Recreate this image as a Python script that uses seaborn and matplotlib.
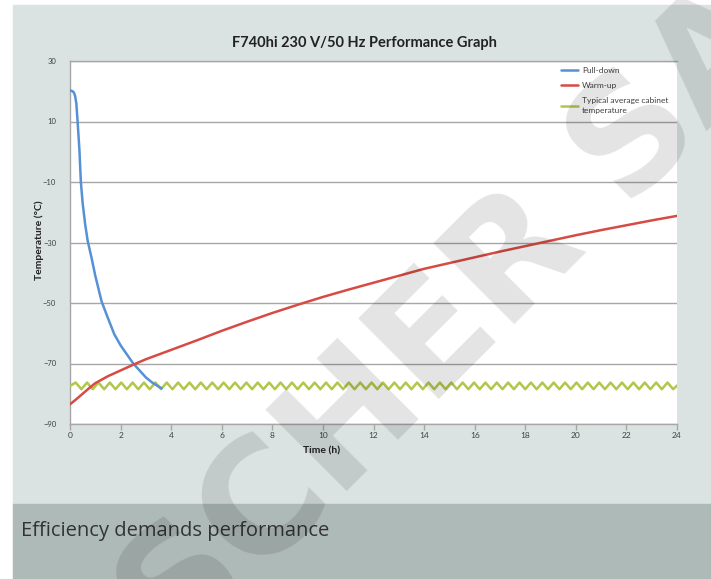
import matplotlib
matplotlib.use("Agg")
import matplotlib.pyplot as plt
import seaborn as sns
from matplotlib.patches import Rectangle

# ---------------- DATA ----------------
pull_time = [0.0, 0.1, 0.15, 0.2, 0.25, 0.3, 0.37, 0.43, 0.5, 0.6, 0.7, 0.85,
             1.0, 1.25, 1.5, 1.75, 2.0, 2.25, 2.5, 2.75, 3.0, 3.25, 3.5, 3.62]
pull_temp = [20.3, 20.0, 19.6, 18.5, 16.0, 10.0, 1.0, -10.0, -17.0, -24.0, -29.5, -35.0,
             -41.0, -49.5, -55.0, -60.3, -64.0, -67.0, -70.0, -72.3, -74.6, -76.3, -77.6, -78.2]

warm_time = [0.0, 0.25, 0.5, 0.75, 1.0, 1.5, 2.0, 2.5, 3.0, 4.0, 5.0, 6.0, 7.0, 8.0,
             9.0, 10.0, 11.0, 12.0, 13.0, 14.0, 15.0, 16.0, 17.0, 18.0, 19.0, 20.0,
             21.0, 22.0, 23.0, 24.0]
warm_temp = [-83.5, -81.8, -80.0, -78.2, -76.5, -74.2, -72.3, -70.4, -68.6, -65.5,
             -62.4, -59.2, -56.2, -53.3, -50.6, -48.0, -45.6, -43.3, -41.0, -38.7,
             -36.8, -34.9, -33.0, -31.2, -29.4, -27.6, -25.9, -24.3, -22.7, -21.2]

# cabinet temperature cycling: alternating trough / peak vertices
cabinet_time = [0.0, 0.225, 0.45, 0.675, 0.9, 1.125, 1.35, 1.575, 1.8, 2.025,
                2.25, 2.475, 2.7, 2.925, 3.15, 3.375, 3.6, 3.825, 4.05, 4.275,
                4.5, 4.725, 4.95, 5.175, 5.4, 5.625, 5.85, 6.075, 6.3, 6.525,
                6.75, 6.975, 7.2, 7.425, 7.65, 7.875, 8.1, 8.325, 8.55, 8.775,
                9.0, 9.225, 9.45, 9.675, 9.9, 10.125, 10.35, 10.575, 10.8, 11.025,
                11.25, 11.475, 11.7, 11.925, 12.15, 12.375, 12.6, 12.825, 13.05, 13.275,
                13.5, 13.725, 13.95, 14.175, 14.4, 14.625, 14.85, 15.075, 15.3, 15.525,
                15.75, 15.975, 16.2, 16.425, 16.65, 16.875, 17.1, 17.325, 17.55, 17.775,
                18.0, 18.225, 18.45, 18.675, 18.9, 19.125, 19.35, 19.575, 19.8, 20.025,
                20.25, 20.475, 20.7, 20.925, 21.15, 21.375, 21.6, 21.825, 22.05, 22.275,
                22.5, 22.725, 22.95, 23.175, 23.4, 23.625, 23.85, 24.0]
cabinet_temp = [-77.4, -76.3, -78.5, -76.3, -78.5, -76.3, -78.5, -76.3, -78.5, -76.3,
                -78.5, -76.3, -78.5, -76.3, -78.5, -76.3, -78.5, -76.3, -78.5, -76.3,
                -78.5, -76.3, -78.5, -76.3, -78.5, -76.3, -78.5, -76.3, -78.5, -76.3,
                -78.5, -76.3, -78.5, -76.3, -78.5, -76.3, -78.5, -76.3, -78.5, -76.3,
                -78.5, -76.3, -78.5, -76.3, -78.5, -76.3, -78.5, -76.3, -78.5, -76.3,
                -78.5, -76.3, -78.5, -76.3, -78.5, -76.3, -78.5, -76.3, -78.5, -76.3,
                -78.5, -76.3, -78.5, -76.3, -78.5, -76.3, -78.5, -76.3, -78.5, -76.3,
                -78.5, -76.3, -78.5, -76.3, -78.5, -76.3, -78.5, -76.3, -78.5, -76.3,
                -78.5, -76.3, -78.5, -76.3, -78.5, -76.3, -78.5, -76.3, -78.5, -76.3,
                -78.5, -76.3, -78.5, -76.3, -78.5, -76.3, -78.5, -76.3, -78.5, -76.3,
                -78.5, -76.3, -78.5, -76.3, -78.5, -76.3, -78.5, -77.3]

x_ticks = [0, 2, 4, 6, 8, 10, 12, 14, 16, 18, 20, 22, 24]
y_ticks = [-90, -70, -50, -30, -10, 10, 30]

labels = ["Pull-down", "Warm-up", "Typical average cabinet\ntemperature"]
colors = ["#5591d4", "#d64b44", "#b3c64a"]

# ---------------- FIGURE ----------------
sns.set_style("white")
plt.rcParams["font.family"] = ["Lato", "DejaVu Sans"]

W, H = 711, 579
fig = plt.figure(figsize=(W / 100, H / 100), dpi=100)
fig.patch.set_facecolor("white")

# panel backgrounds (behind the axes)
fig.patches.append(Rectangle((13 / W, 1 - 505 / H), 1 - 13 / W, 500 / H,
                             transform=fig.transFigure, color="#dbe3e2", zorder=-2))
fig.patches.append(Rectangle((13 / W, 0), 1 - 13 / W, 1 - 504 / H,
                             transform=fig.transFigure, color="#aebab8", zorder=-2))

ax = fig.add_axes([70 / W, 1 - 424 / H, 607 / W, 363 / H])
ax.set_facecolor("white")
ax.set_zorder(1)

sns.lineplot(x=cabinet_time, y=cabinet_temp, ax=ax, color=colors[2], lw=1.8,
             label=labels[2], zorder=3)
sns.lineplot(x=pull_time, y=pull_temp, ax=ax, color=colors[0], lw=1.8,
             label=labels[0], zorder=4)
sns.lineplot(x=warm_time, y=warm_temp, ax=ax, color=colors[1], lw=1.8,
             label=labels[1], zorder=4)

ax.set_xlim(0, 24)
ax.set_ylim(-90, 30)
ax.set_xticks(x_ticks)
ax.set_yticks(y_ticks)
ax.set_yticks([-80, -60, -40, -20, 0, 20], minor=True)
ax.yaxis.grid(True, which="major", color="#a6a6a6", lw=1)
ax.set_axisbelow(True)

for side in ["left", "bottom", "top"]:
    ax.spines[side].set_color("#a6a6a6")
    ax.spines[side].set_linewidth(1)
ax.spines["right"].set_visible(False)

ax.tick_params(axis="x", which="major", direction="out", length=4, width=1,
               color="#a6a6a6", labelsize=6, labelcolor="#404040", pad=2)
ax.tick_params(axis="y", which="major", direction="out", length=0,
               labelsize=5.5, labelcolor="#404040", pad=10)
ax.tick_params(axis="y", which="minor", direction="in", length=3, width=0.8,
               color="#a6a6a6")
ax.tick_params(left=True, bottom=True)

ax.set_xlabel("")
ax.set_ylabel("")

# legend in Excel order
handles, labs = ax.get_legend_handles_labels()
order = [labs.index(l) for l in labels]
leg = ax.legend([handles[i] for i in order], [labs[i] for i in order],
                loc="upper left", bbox_to_anchor=(0.797, 1.005), frameon=False,
                fontsize=6, handlelength=2.0, handletextpad=0.5, labelspacing=1.0,
                labelcolor="#404040")
for t in leg.get_texts():
    t.set_linespacing(1.4)

fig.text(364 / W, 1 - 43 / H, "F740hi 230 V/50 Hz Performance Graph",
         ha="center", va="center", fontsize=10.5, fontweight="bold", color="#222222")
fig.text(39 / W, 1 - 240 / H, "Temperature (°C)", rotation=90,
         ha="center", va="center", fontsize=7.5, fontweight="bold", color="#222222")
fig.text(322 / W, 1 - 451 / H, "Time (h)", ha="center", va="center",
         fontsize=7.5, fontweight="bold", color="#222222")

fig.text(21 / W, 1 - 531 / H, "Efficiency demands performance",
         ha="left", va="center", fontsize=14.5, color="#333333",
         family=["Open Sans", "DejaVu Sans"])

# watermark
fig.text(494 / W, 1 - 284 / H, "SCHER SAS", rotation=45, rotation_mode="anchor",
         ha="center", va="center", fontsize=112, fontweight="bold",
         family=["DejaVu Sans"], color="black", alpha=0.11, zorder=10)

fig.savefig("out.png", dpi=100)
